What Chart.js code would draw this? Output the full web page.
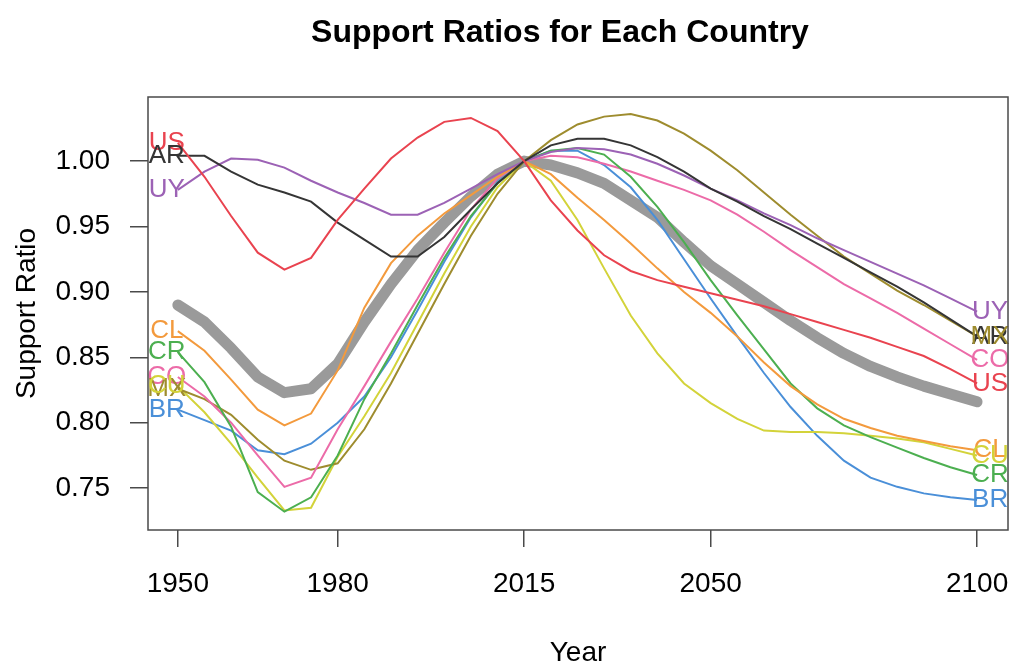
<!DOCTYPE html>
<html>
<head>
<meta charset="utf-8">
<script src="https://cdn.jsdelivr.net/npm/chart.js@4.4.1/dist/chart.umd.min.js"></script>
<style>
  html, body { margin: 0; padding: 0; background: #ffffff; }
  canvas { display: block; }
</style>
</head>
<body>
<canvas id="ratios" width="1012" height="666"></canvas>
<script>
// years on the x axis, every 5 years
const years = [1950, 1955, 1960, 1965, 1970, 1975, 1980, 1985, 1990, 1995, 2000,
  2005, 2010, 2015, 2020, 2025, 2030, 2035, 2040, 2045, 2050,
  2055, 2060, 2065, 2070, 2075, 2080, 2085, 2090, 2095, 2100];

const xTicks = [1950, 1980, 2015, 2050, 2100];
const yTicks = [0.75, 0.80, 0.85, 0.90, 0.95, 1.00];

// support ratio relative to 2015, per country
const US = [1.014, 0.988, 0.958, 0.930, 0.917, 0.926, 0.955, 0.979, 1.002, 1.018, 1.030,
  1.033, 1.023, 1.000, 0.970, 0.947, 0.928, 0.916, 0.909, 0.904, 0.899,
  0.894, 0.889, 0.883, 0.877, 0.871, 0.865, 0.858, 0.851, 0.841, 0.830];
const AR = [1.004, 1.004, 0.992, 0.982, 0.976, 0.969, 0.953, 0.940, 0.927, 0.927, 0.942,
  0.963, 0.983, 1.000, 1.012, 1.017, 1.017, 1.012, 1.003, 0.992, 0.979,
  0.969, 0.958, 0.948, 0.937, 0.926, 0.915, 0.904, 0.892, 0.879, 0.866];
const UY = [0.978, 0.992, 1.002, 1.001, 0.995, 0.985, 0.976, 0.968, 0.959, 0.959, 0.968,
  0.979, 0.990, 1.000, 1.007, 1.010, 1.009, 1.005, 0.998, 0.989, 0.979,
  0.970, 0.960, 0.951, 0.941, 0.932, 0.923, 0.914, 0.905, 0.895, 0.885];
const CL = [0.870, 0.855, 0.833, 0.810, 0.798, 0.807, 0.840, 0.888, 0.922, 0.943, 0.960,
  0.974, 0.988, 1.000, 0.990, 0.972, 0.955, 0.937, 0.918, 0.900, 0.884,
  0.866, 0.846, 0.828, 0.814, 0.803, 0.796, 0.790, 0.786, 0.782, 0.779];
const CR = [0.854, 0.831, 0.797, 0.747, 0.732, 0.743, 0.775, 0.818, 0.853, 0.890, 0.926,
  0.958, 0.983, 1.000, 1.008, 1.010, 1.005, 0.988, 0.965, 0.938, 0.909,
  0.882, 0.856, 0.830, 0.811, 0.798, 0.789, 0.781, 0.773, 0.766, 0.760];
const CO = [0.835, 0.820, 0.800, 0.775, 0.751, 0.758, 0.795, 0.828, 0.862, 0.895, 0.930,
  0.963, 0.987, 1.000, 1.004, 1.003, 0.998, 0.992, 0.985, 0.978, 0.970,
  0.959, 0.946, 0.932, 0.919, 0.906, 0.895, 0.884, 0.872, 0.860, 0.848];
const MX = [0.826, 0.818, 0.806, 0.787, 0.771, 0.764, 0.769, 0.795, 0.830, 0.868, 0.906,
  0.943, 0.975, 1.000, 1.016, 1.028, 1.034, 1.036, 1.031, 1.021, 1.008,
  0.993, 0.976, 0.959, 0.943, 0.927, 0.914, 0.901, 0.890, 0.878, 0.866];
const CU = [0.828, 0.808, 0.784, 0.758, 0.733, 0.735, 0.774, 0.805, 0.838, 0.876, 0.914,
  0.950, 0.980, 1.000, 0.985, 0.955, 0.918, 0.882, 0.853, 0.830, 0.815,
  0.803, 0.794, 0.793, 0.793, 0.792, 0.790, 0.788, 0.785, 0.780, 0.775];
const BR = [0.810, 0.802, 0.794, 0.779, 0.776, 0.784, 0.800, 0.820, 0.850, 0.886, 0.923,
  0.957, 0.984, 1.000, 1.008, 1.008, 0.997, 0.980, 0.955, 0.925, 0.895,
  0.866, 0.838, 0.812, 0.790, 0.771, 0.758, 0.751, 0.746, 0.743, 0.741];
// average of all countries (thick grey line)
const average = [0.890, 0.877, 0.857, 0.835, 0.823, 0.826, 0.845, 0.877, 0.906, 0.932, 0.953,
  0.973, 0.990, 1.000, 0.997, 0.991, 0.983, 0.970, 0.957, 0.938, 0.920,
  0.906, 0.892, 0.878, 0.865, 0.853, 0.843, 0.835, 0.828, 0.822, 0.816];

const countries = [
  { code: "US", values: US, color: "#e9434f" },
  { code: "AR", values: AR, color: "#353535" },
  { code: "UY", values: UY, color: "#9c62b5" },
  { code: "CL", values: CL, color: "#f39a3d" },
  { code: "CR", values: CR, color: "#4caf50" },
  { code: "CO", values: CO, color: "#ec6ba8" },
  { code: "MX", values: MX, color: "#9e8c2e" },
  { code: "CU", values: CU, color: "#d3d33a" },
  { code: "BR", values: BR, color: "#4a8fd8" },
];

const FONT = "'Liberation Sans', Arial, Helvetica, sans-serif";

const toPoints = (vals) => vals.map((v, i) => ({ x: years[i], y: v }));

const datasets = countries.map((c) => ({
  label: c.code,
  data: toPoints(c.values),
  borderColor: c.color,
  borderWidth: 2,
  pointRadius: 0,
  tension: 0,
  order: 1,
}));
datasets.push({
  label: "Average",
  data: toPoints(average),
  borderColor: "#9a9a9a",
  borderWidth: 11,
  borderCapStyle: "round",
  borderJoinStyle: "round",
  pointRadius: 0,
  tension: 0,
  order: 10,
});

// box, titles and country codes at both ends of each line
const decorations = {
  id: "decorations",
  afterDatasetsDraw(chart) {
    const ctx = chart.ctx;
    const xs = chart.scales.x;
    const ys = chart.scales.y;
    ctx.save();
    ctx.font = "26px " + FONT;
    ctx.textAlign = "center";
    ctx.textBaseline = "middle";
    countries.forEach((c) => {
      ctx.fillStyle = c.color;
      const first = c.values[0];
      const last = c.values[c.values.length - 1];
      ctx.fillText(c.code, xs.getPixelForValue(years[0]) - 11, ys.getPixelForValue(first));
      ctx.fillText(c.code, xs.getPixelForValue(years[years.length - 1]) + 13, ys.getPixelForValue(last));
    });
    ctx.restore();
  },
  afterDraw(chart) {
    const ctx = chart.ctx;
    const a = chart.chartArea;
    ctx.save();
    ctx.strokeStyle = "#4a4a4a";
    ctx.lineWidth = 1.5;
    ctx.strokeRect(a.left, a.top, a.right - a.left, a.bottom - a.top);

    ctx.fillStyle = "#000000";
    ctx.textAlign = "center";
    ctx.textBaseline = "alphabetic";
    ctx.font = "bold 32px " + FONT;
    ctx.fillText("Support Ratios for Each Country", 560, 42);

    ctx.font = "28px " + FONT;
    ctx.fillText("Year", (a.left + a.right) / 2, 661);

    ctx.translate(35, (a.top + a.bottom) / 2);
    ctx.rotate(-Math.PI / 2);
    ctx.fillText("Support Ratio", 0, 0);
    ctx.restore();
  },
};

new Chart("ratios", {
  type: "line",
  data: { datasets: datasets },
  options: {
    responsive: false,
    animation: false,
    layout: { autoPadding: false, padding: { top: 97, right: 4, left: 0, bottom: 0 } },
    plugins: {
      legend: { display: false },
      tooltip: { enabled: false },
      title: { display: false },
    },
    scales: {
      x: {
        type: "linear",
        min: 1944.4,
        max: 2105.8,
        afterFit: (scale) => { scale.height = 136; scale.paddingLeft = 0; scale.paddingRight = 0; },
        afterBuildTicks: (scale) => { scale.ticks = xTicks.map((v) => ({ value: v })); },
        border: { display: false },
        grid: { drawOnChartArea: false, tickLength: 17, color: "#4a4a4a", lineWidth: 1.5 },
        ticks: {
          color: "#000000",
          font: { family: FONT, size: 28 },
          padding: 20,
          maxRotation: 0,
          callback: (v) => String(v),
        },
      },
      y: {
        type: "linear",
        min: 0.718,
        max: 1.049,
        afterFit: (scale) => { scale.width = 148; scale.paddingTop = 0; scale.paddingBottom = 0; },
        afterBuildTicks: (scale) => { scale.ticks = yTicks.map((v) => ({ value: v })); },
        border: { display: false },
        grid: { drawOnChartArea: false, tickLength: 18, color: "#4a4a4a", lineWidth: 1.5 },
        ticks: {
          color: "#000000",
          font: { family: FONT, size: 28 },
          padding: 20,
          callback: (v) => v.toFixed(2),
        },
      },
    },
  },
  plugins: [decorations],
});
</script>
</body>
</html>
